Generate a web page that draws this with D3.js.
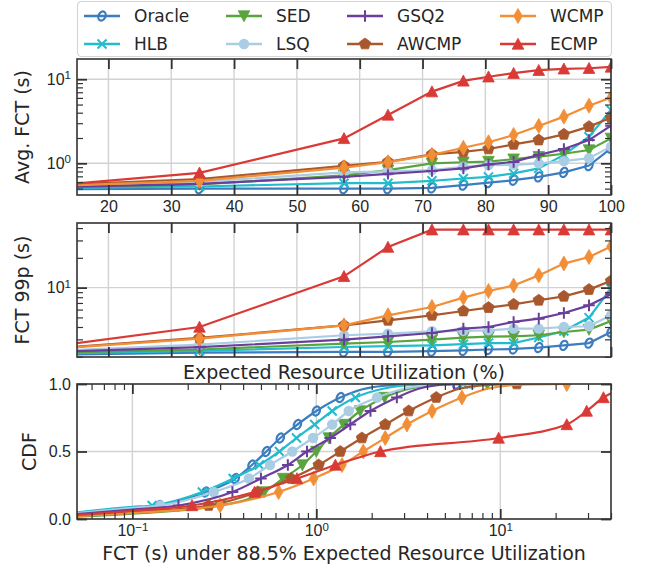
<!DOCTYPE html>
<html lang="en">
<head>
<meta charset="utf-8">
<title>FCT vs utilization</title>
<script src="https://cdnjs.cloudflare.com/ajax/libs/d3/7.8.5/d3.min.js"></script>
<style>
body { margin: 0; background: #fff; }
svg { font-family: "DejaVu Sans", sans-serif; display: block; }
.tick text { fill: #262626; font-size: 16px; }
.tick line { stroke: #333; }
.lbl { fill: #262626; font-size: 19px; }
.grid line { stroke: #d2d2d2; stroke-width: 1.4; }
</style>
</head>
<body>
<svg id="svgMain" width="645" height="571"></svg>
<script>

// ---- data -------------------------------------------------------------
var names = ["Oracle", "HLB", "SED", "LSQ", "GSQ2", "AWCMP", "WCMP", "ECMP"];
var colors = ["#3b7dbf", "#22bccd", "#58a43f", "#aacde4", "#6a3f9b", "#a8582c", "#f28e36", "#d93a36"];
var markerTypes = ["ring", "x", "tri-down", "circle", "plus", "pentagon", "thin-diamond", "tri-up"];

// expected resource utilization (%)
var util = [11.5, 34.5, 57.5, 64.5, 71.5, 76.5, 80.5, 84.5, 88.5, 92.5, 96.5, 100];

// average FCT (s)
var avgOracle = [0.49, 0.50, 0.50, 0.50, 0.51, 0.55, 0.59, 0.63, 0.69, 0.78, 0.94, 1.51];
var avgHLB    = [0.51, 0.53, 0.58, 0.58, 0.62, 0.66, 0.69, 0.76, 0.87, 1.26, 2.07, 4.3];
var avgSED    = [0.52, 0.56, 0.72, 0.83, 1.0, 1.03, 1.05, 1.12, 1.2, 1.3, 1.44, 1.98];
var avgLSQ    = [0.53, 0.60, 0.78, 0.80, 0.83, 0.91, 0.95, 0.96, 1.0, 1.06, 1.15, 1.58];
var avgGSQ2   = [0.52, 0.57, 0.69, 0.75, 0.81, 0.87, 0.97, 1.04, 1.26, 1.48, 1.89, 2.8];
var avgAWCMP  = [0.55, 0.65, 0.93, 1.04, 1.28, 1.37, 1.48, 1.68, 1.89, 2.21, 2.73, 3.49];
var avgWCMP   = [0.54, 0.62, 0.89, 1.03, 1.26, 1.53, 1.78, 2.17, 2.78, 3.59, 4.85, 6.04];
var avgECMP   = [0.55, 0.77, 1.98, 3.76, 7.12, 9.55, 10.7, 11.8, 12.8, 13.3, 13.5, 14.0];

// 99th percentile FCT (s)
var p99Oracle = [2.1, 2.2, 2.24, 2.24, 2.28, 2.32, 2.37, 2.4, 2.48, 2.61, 2.75, 3.56];
var p99HLB    = [2.15, 2.3, 2.51, 2.56, 2.61, 2.68, 2.75, 2.75, 3.13, 3.65, 4.98, 9.8];
var p99SED    = [2.2, 2.37, 2.72, 2.82, 2.98, 3.13, 3.2, 3.22, 3.3, 3.56, 3.77, 4.6];
var p99LSQ    = [2.3, 2.65, 3.3, 3.43, 3.62, 3.65, 3.7, 3.85, 3.85, 4.0, 4.07, 5.25];
var p99GSQ2   = [2.25, 2.5, 2.98, 3.22, 3.48, 3.85, 4.0, 4.5, 4.86, 5.54, 6.62, 8.55];
var p99AWCMP  = [2.45, 3.1, 4.16, 4.67, 5.25, 5.8, 6.28, 6.78, 7.45, 8.17, 9.55, 11.7];
var p99WCMP   = [2.42, 3.05, 4.16, 5.25, 6.37, 7.92, 9.25, 10.5, 13.3, 17.5, 20.4, 26.1];
var p99ECMP   = [2.57, 4.0, 13.0, 25.7, 38.5, 38.5, 38.5, 38.5, 38.5, 38.5, 38.5, 38.5];

// CDF at 88.5% utilization: FCT (s) at each marked CDF level
var cdfLevels = [0.1, 0.2, 0.3, 0.4, 0.5, 0.6, 0.7, 0.8, 0.9, 1.0];
var cdfOracle = [0.14, 0.25, 0.363, 0.447, 0.535, 0.637, 0.79, 1.0, 1.35, 5.8];
var cdfHLB    = [0.128, 0.24, 0.353, 0.49, 0.63, 0.78, 0.98, 1.22, 1.63, 6.3];
var cdfSED    = [0.3, 0.52, 0.66, 0.84, 1.0, 1.17, 1.41, 1.73, 2.35, 8.5];
var cdfLSQ    = [0.142, 0.277, 0.43, 0.56, 0.74, 0.96, 1.22, 1.5, 2.14, 7.0];
var cdfGSQ2   = [0.178, 0.35, 0.5, 0.7, 0.89, 1.19, 1.53, 1.97, 2.74, 5.6];
var cdfAWCMP  = [0.26, 0.48, 0.73, 1.03, 1.35, 1.77, 2.37, 3.18, 4.49, 12.3];
var cdfWCMP   = [0.3, 0.624, 0.967, 1.38, 1.8, 2.37, 3.11, 4.26, 6.19, 23];
var cdfECMP   = [0.211, 0.462, 0.785, 1.27, 2.23, 9.8, 23, 29.5, 36.4, 60];

// unmarked parts of each CDF curve [FCT, CDF]
var tailOracle = [[0.03, 0.012], [0.1, 0.072], [1.9, 0.97], [3.0, 0.995]];
var tailHLB    = [[0.03, 0.015], [0.1, 0.09], [2.3, 0.965], [3.6, 0.995]];
var tailSED    = [[0.03, 0.006], [0.1, 0.04], [3.2, 0.965], [5.0, 0.995]];
var tailLSQ    = [[0.03, 0.014], [0.1, 0.082], [3.0, 0.965], [4.6, 0.995]];
var tailGSQ2   = [[0.03, 0.012], [0.1, 0.07], [3.6, 0.965], [4.8, 0.995]];
var tailAWCMP  = [[0.03, 0.008], [0.1, 0.052], [6.0, 0.965], [9.0, 0.995]];
var tailWCMP   = [[0.03, 0.007], [0.1, 0.045], [8.5, 0.965], [13, 0.995]];
var tailECMP   = [[0.03, 0.01], [0.1, 0.06]];

var avgData = [avgOracle, avgHLB, avgSED, avgLSQ, avgGSQ2, avgAWCMP, avgWCMP, avgECMP];
var p99Data = [p99Oracle, p99HLB, p99SED, p99LSQ, p99GSQ2, p99AWCMP, p99WCMP, p99ECMP];
var cdfData = [cdfOracle, cdfHLB, cdfSED, cdfLSQ, cdfGSQ2, cdfAWCMP, cdfWCMP, cdfECMP];
var tailData = [tailOracle, tailHLB, tailSED, tailLSQ, tailGSQ2, tailAWCMP, tailWCMP, tailECMP];

// ---- layout ------------------------------------------------------------
var svg = d3.select("#svgMain");
var L = 77, R = 611;
var p1 = {top: 59, bottom: 195},
    p2 = {top: 223, bottom: 357},
    p3 = {top: 384, bottom: 519};

var xUtil = d3.scaleLinear().domain([15, 100]).range([L, R]);
var yAvg = d3.scaleLog().domain([0.42, 17.4]).range([p1.bottom, p1.top]);
var y99 = d3.scaleLog().domain([1.99, 45]).range([p2.bottom, p2.top]);
var xCdf = d3.scaleLog().domain([0.05, 40]).range([L, R]);
var yCdf = d3.scaleLinear().domain([0, 1]).range([p3.bottom, p3.top]);

function markerPath(t) {
  if (t == "tri-up") return "M0,-5.8L5.8,5.2L-5.8,5.2Z";
  if (t == "tri-down") return "M0,5.8L5.8,-5.2L-5.8,-5.2Z";
  if (t == "thin-diamond") return "M0,-7.5L4.3,0L0,7.5L-4.3,0Z";
  if (t == "x") return "M-4.5,-4.5L4.5,4.5M-4.5,4.5L4.5,-4.5";
  if (t == "plus") return "M-5.8,0H5.8M0,-5.8V5.8";
  if (t == "pentagon") {
    var p = d3.range(5).map(function(i) {
      var a = -Math.PI / 2 + i * 2 * Math.PI / 5;
      return [6 * Math.cos(a), 6 * Math.sin(a)];
    });
    return "M" + p.join("L") + "Z";
  }
  return null;
}

function addMarker(g, t, color, px, py) {
  if (t == "circle") {
    g.append("circle").attr("cx", px).attr("cy", py).attr("r", 5.2).attr("fill", color);
  } else if (t == "ring") {
    g.append("ellipse").attr("rx", 3.4).attr("ry", 4.8)
      .attr("transform", "translate(" + px + "," + py + ") rotate(25)")
      .attr("fill", "none").attr("stroke", color).attr("stroke-width", 2.2);
  } else if (t == "x" || t == "plus") {
    g.append("path").attr("d", markerPath(t))
      .attr("transform", "translate(" + px + "," + py + ")")
      .attr("fill", "none").attr("stroke", color).attr("stroke-width", 2);
  } else {
    g.append("path").attr("d", markerPath(t))
      .attr("transform", "translate(" + px + "," + py + ")")
      .attr("fill", color).attr("stroke", color).attr("stroke-width", 0.8)
      .attr("stroke-linejoin", "round");
  }
}

function pow10(sel, fmtExp) {
  sel.each(function(d) {
    var t = d3.select(this), e = Math.round(Math.log10(d));
    t.text(null);
    t.append("tspan").text("10");
    t.append("tspan").attr("dy", "-0.5em").attr("font-size", "11.5px")
      .text(String(e).replace("-", "\u2212"));
  });
}

// clip paths
var defs = svg.append("defs");
[p1, p2, p3].forEach(function(p, i) {
  defs.append("clipPath").attr("id", "clip" + i).append("rect")
    .attr("x", L).attr("y", p.top).attr("width", R - L).attr("height", p.bottom - p.top);
});

function grid(xs, xScale, ys, yScale, p) {
  var g = svg.append("g").attr("class", "grid");
  xs.forEach(function(v) {
    g.append("line").attr("x1", xScale(v)).attr("x2", xScale(v)).attr("y1", p.top).attr("y2", p.bottom);
  });
  ys.forEach(function(v) {
    g.append("line").attr("y1", yScale(v)).attr("y2", yScale(v)).attr("x1", L).attr("x2", R);
  });
}

function ticks(axisFn, scale, vals, size, at, labels) {
  var a = axisFn(scale).tickValues(vals).tickSize(-size).tickPadding(6);
  if (!labels) a.tickFormat("");
  var g = svg.append("g").attr("transform", at).call(a);
  g.select(".domain").remove();
  g.selectAll(".tick line").attr("stroke-width", size > 8 ? 1.8 : 1.2);
  return g;
}

function frame(p) {
  svg.append("rect").attr("x", L).attr("y", p.top).attr("width", R - L).attr("height", p.bottom - p.top)
    .attr("fill", "none").attr("stroke", "#333").attr("stroke-width", 1.6);
}

var utilTicks = [20, 30, 40, 50, 60, 70, 80, 90, 100];

// ---- panels 1 and 2 ------------------------------------------------------
function linePanel(p, yScale, data, majors, minors, idx, showX) {
  grid(utilTicks, xUtil, majors, yScale, p);
  var g = svg.append("g").attr("clip-path", "url(#clip" + idx + ")");
  data.forEach(function(vals, s) {
    var pts = util.map(function(u, i) { return [xUtil(u), yScale(vals[i])]; });
    g.append("path").attr("d", d3.line()(pts)).attr("fill", "none")
      .attr("stroke", colors[s]).attr("stroke-width", 2.2);
    pts.forEach(function(pt) { addMarker(g, markerTypes[s], colors[s], pt[0], pt[1]); });
  });
  frame(p);
  var bx = ticks(d3.axisBottom, xUtil, utilTicks, 10, "translate(0," + p.bottom + ")", showX);
  ticks(d3.axisTop, xUtil, utilTicks, 10, "translate(0," + p.top + ")", false);
  var ly = ticks(d3.axisLeft, yScale, majors, 10, "translate(" + L + ",0)", true);
  ly.selectAll(".tick text").call(pow10);
  ticks(d3.axisRight, yScale, majors, 10, "translate(" + R + ",0)", false);
  ticks(d3.axisLeft, yScale, minors, 6, "translate(" + L + ",0)", false);
  ticks(d3.axisRight, yScale, minors, 6, "translate(" + R + ",0)", false);
}

linePanel(p1, yAvg, avgData, [1, 10], [0.5, 0.6, 0.7, 0.8, 0.9, 2, 3, 4, 5, 6, 7, 8, 9], 0, true);
linePanel(p2, y99, p99Data, [10], [2, 3, 4, 5, 6, 7, 8, 9, 20, 30, 40], 1, false);

// ---- panel 3: CDF --------------------------------------------------------
grid([0.1, 1, 10], xCdf, [0.5], yCdf, p3);
var g3 = svg.append("g").attr("clip-path", "url(#clip2)");
cdfData.forEach(function(xs, s) {
  var marked = xs.map(function(v, i) { return [v, cdfLevels[i]]; });
  var all = marked.concat(tailData[s]).sort(function(a, b) { return a[0] - b[0]; });
  var line = d3.line().curve(d3.curveMonotoneX)
    .x(function(d) { return xCdf(d[0]); }).y(function(d) { return yCdf(d[1]); });
  g3.append("path").attr("d", line(all)).attr("fill", "none")
    .attr("stroke", colors[s]).attr("stroke-width", 2.2);
  marked.forEach(function(d) { addMarker(g3, markerTypes[s], colors[s], xCdf(d[0]), yCdf(d[1])); });
});
frame(p3);
var cdfMinor = [0.05, 0.06, 0.07, 0.08, 0.09, 0.2, 0.3, 0.4, 0.5, 0.6, 0.7, 0.8, 0.9,
                2, 3, 4, 5, 6, 7, 8, 9, 20, 30, 40];
var bx3 = ticks(d3.axisBottom, xCdf, [0.1, 1, 10], 10, "translate(0," + p3.bottom + ")", true);
bx3.selectAll(".tick text").call(pow10);
ticks(d3.axisTop, xCdf, [0.1, 1, 10], 10, "translate(0," + p3.top + ")", false);
ticks(d3.axisBottom, xCdf, cdfMinor, 6, "translate(0," + p3.bottom + ")", false);
ticks(d3.axisTop, xCdf, cdfMinor, 6, "translate(0," + p3.top + ")", false);
var ly3 = ticks(d3.axisLeft, yCdf, [0, 0.5, 1], 10, "translate(" + L + ",0)", true);
ly3.selectAll(".tick text").text(d3.format(".1f"));
ticks(d3.axisRight, yCdf, [0, 0.5, 1], 10, "translate(" + R + ",0)", false);

// ---- axis labels ---------------------------------------------------------
function ylabel(txt, x, y) {
  svg.append("text").attr("class", "lbl").attr("text-anchor", "middle")
    .attr("transform", "translate(" + x + "," + y + ") rotate(-90)").text(txt);
}
ylabel("Avg. FCT (s)", 29, (p1.top + p1.bottom) / 2);
ylabel("FCT 99p (s)", 29, (p2.top + p2.bottom) / 2);
ylabel("CDF", 36, (p3.top + p3.bottom) / 2);
svg.append("text").attr("class", "lbl").attr("text-anchor", "middle")
  .attr("x", (L + R) / 2).attr("y", 379).text("Expected Resource Utilization (%)");
svg.append("text").attr("class", "lbl").attr("text-anchor", "middle")
  .attr("x", (L + R) / 2).attr("y", 560).text("FCT (s) under 88.5% Expected Resource Utilization");

// ---- legend --------------------------------------------------------------
var lg = svg.append("g");
lg.append("rect").attr("x", 77.5).attr("y", 1.5).attr("width", 534).attr("height", 55)
  .attr("rx", 4).attr("fill", "#fff").attr("stroke", "#d5d5d5").attr("stroke-width", 1.2);
var colX = [84, 226, 347, 500], rowY = [16, 44];
names.forEach(function(n, i) {
  var cx = colX[Math.floor(i / 2)], cy = rowY[i % 2];
  lg.append("line").attr("x1", cx).attr("x2", cx + 36).attr("y1", cy).attr("y2", cy)
    .attr("stroke", colors[i]).attr("stroke-width", 2.6);
  addMarker(lg, markerTypes[i], colors[i], cx + 18, cy);
  lg.append("text").attr("x", cx + 50).attr("y", cy).attr("dy", "0.36em")
    .attr("font-size", "17px").attr("fill", "#262626").text(n);
});

</script>
</body>
</html>
